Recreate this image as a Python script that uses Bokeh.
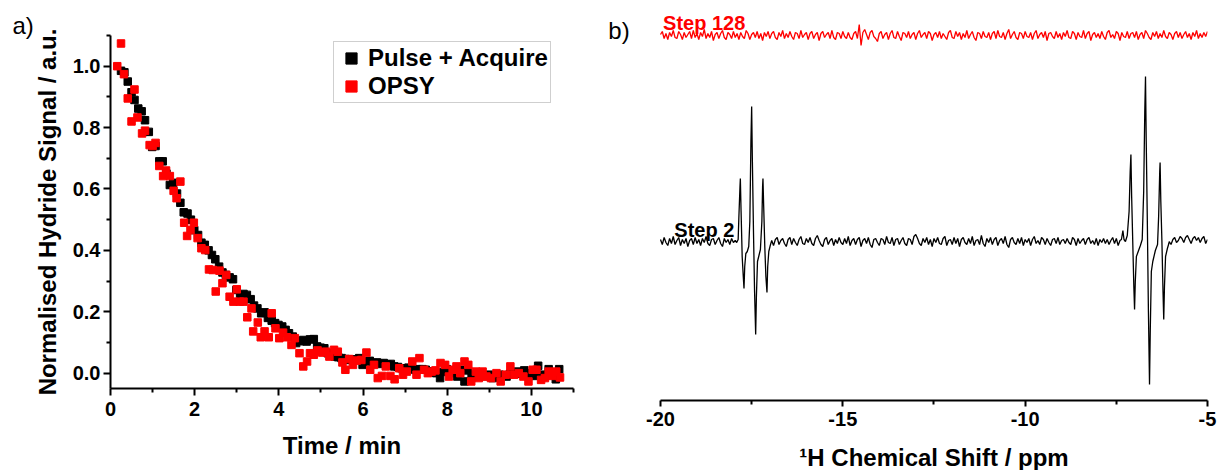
from bokeh.plotting import figure
from bokeh.models import (Range1d, FixedTicker, Legend, LegendItem, Label, Title)
from bokeh.layouts import row
from bokeh.embed import file_html
from bokeh.resources import INLINE

FONT = "Liberation Sans"

# ---------------- panel a) data ----------------
pa_time = [0.25, 0.33, 0.41, 0.50, 0.57, 0.66, 0.74, 0.82, 0.91, 0.99, 1.07, 1.16, 1.24, 1.33, 1.41, 1.49,
           1.58, 1.66, 1.74, 1.83, 1.91, 1.99, 2.08, 2.16, 2.24, 2.33, 2.41, 2.49, 2.58, 2.66, 2.74, 2.83,
           2.91, 2.99, 3.08, 3.16, 3.24, 3.33, 3.41, 3.49, 3.58, 3.66, 3.74, 3.83, 3.91, 3.99, 4.08, 4.16,
           4.24, 4.33, 4.41, 4.49, 4.58, 4.66, 4.74, 4.83, 4.91, 4.99, 5.08, 5.16, 5.24, 5.33, 5.41, 5.49,
           5.58, 5.66, 5.74, 5.83, 5.91, 5.99, 6.08, 6.16, 6.24, 6.33, 6.41, 6.49, 6.58, 6.66, 6.74, 6.83,
           6.91, 6.99, 7.08, 7.16, 7.24, 7.33, 7.41, 7.49, 7.58, 7.66, 7.74, 7.83, 7.91, 7.99, 8.08, 8.16,
           8.24, 8.33, 8.41, 8.49, 8.58, 8.66, 8.74, 8.83, 8.91, 8.99, 9.08, 9.16, 9.24, 9.33, 9.41, 9.49,
           9.58, 9.66, 9.74, 9.83, 9.91, 9.99, 10.08, 10.16, 10.24, 10.33, 10.41, 10.49, 10.58, 10.66]
pa_signal = [0.985, 0.98, 0.95, 0.915, 0.89, 0.862, 0.853, 0.824, 0.786, 0.737, 0.74, 0.69, 0.69, 0.65, 0.613, 0.62,
             0.585, 0.555, 0.524, 0.52, 0.5, 0.466, 0.45, 0.425, 0.418, 0.40, 0.385, 0.371, 0.347, 0.328, 0.32, 0.312,
             0.306, 0.271, 0.252, 0.258, 0.255, 0.241, 0.22, 0.211, 0.195, 0.198, 0.18, 0.171, 0.163, 0.157, 0.152, 0.141,
             0.13, 0.119, 0.098, 0.104, 0.108, 0.103, 0.11, 0.111, 0.087, 0.083, 0.081, 0.065, 0.06, 0.054, 0.052, 0.049,
             0.046, 0.043, 0.045, 0.043, 0.049, 0.027, 0.038, 0.04, 0.033, 0.035, 0.03, 0.033, 0.028, 0.03, 0.022, 0.02,
             0.016, 0.012, 0.018, 0.014, 0.011, 0.013, 0.013, 0.011, 0.002, 0.006, 0.0, -0.016, 0.004, 0.013, 0.009, 0.0,
             -0.011, 0.011, -0.027, 0.009, -0.005, -0.011, -0.008, -0.005, -0.01, -0.005, -0.016, -0.01, -0.005, -0.008, -0.011, -0.003,
             0.0, 0.005, -0.002, 0.009, 0.0, -0.005, -0.009, 0.024, -0.005, -0.009, 0.013, 0.0, -0.02, 0.013]

opsy_time = [0.16, 0.25, 0.32, 0.41, 0.50, 0.57, 0.64, 0.75, 0.82, 0.93, 1.00, 1.07, 1.16, 1.25, 1.32, 1.41,
             1.50, 1.57, 1.66, 1.75, 1.82, 1.90, 1.98, 2.07, 2.16, 2.25, 2.34, 2.43, 2.50, 2.59, 2.66, 2.75,
             2.83, 2.92, 3.00, 3.07, 3.16, 3.25, 3.35, 3.39, 3.50, 3.57, 3.66, 3.76, 3.83, 3.92, 4.01, 4.10,
             4.19, 4.30, 4.38, 4.49, 4.58, 4.67, 4.74, 4.83, 4.92, 5.03, 5.12, 5.20, 5.31, 5.40, 5.51, 5.58,
             5.67, 5.76, 5.85, 5.96, 6.08, 6.17, 6.26, 6.35, 6.45, 6.54, 6.65, 6.75, 6.86, 6.95, 7.04, 7.17,
             7.27, 7.34, 7.45, 7.54, 7.63, 7.72, 7.84, 7.95, 8.04, 8.13, 8.22, 8.31, 8.41, 8.50, 8.57, 8.68,
             8.75, 8.84, 8.93, 9.04, 9.17, 9.27, 9.39, 9.50, 9.59, 9.70, 9.81, 9.93, 10.03, 10.12, 10.23, 10.32,
             10.41, 10.50, 10.59, 10.68]
opsy_signal = [1.0, 1.074, 0.974, 0.895, 0.82, 0.924, 0.833, 0.781, 0.79, 0.743, 0.74, 0.75, 0.675, 0.642, 0.66, 0.642,
               0.594, 0.57, 0.624, 0.49, 0.447, 0.466, 0.49, 0.44, 0.407, 0.401, 0.338, 0.336, 0.266, 0.334, 0.293, 0.32,
               0.249, 0.233, 0.273, 0.233, 0.233, 0.182, 0.211, 0.136, 0.165, 0.117, 0.136, 0.117, 0.195, 0.146, 0.114, 0.132,
               0.117, 0.092, 0.114, 0.065, 0.022, 0.038, 0.065, 0.06, 0.074, 0.067, 0.07, 0.054, 0.076, 0.07, 0.035, 0.011,
               0.046, 0.027, 0.041, 0.043, 0.067, 0.011, 0.027, -0.016, -0.009, 0.022, -0.009, -0.02, 0.016, -0.005, 0.005, 0.038,
               -0.005, 0.049, 0.011, 0.0, 0.005, 0.009, 0.033, 0.027, -0.011, 0.011, 0.022, 0.0, 0.038, 0.027, -0.027, 0.005,
               -0.016, 0.005, -0.011, -0.016, 0.0, -0.027, -0.005, 0.022, -0.005, 0.0, -0.011, -0.027, 0.011, 0.011, -0.022, -0.016,
               0.005, -0.009, 0.005, -0.014]

x_ticks_a = [0, 2, 4, 6, 8, 10]
y_ticks_a = [0.0, 0.2, 0.4, 0.6, 0.8, 1.0]

# ---------------- panel b) data ----------------
ppm_start, ppm_step, n_points = -20.0, 0.05, 301
ppm_grid = [round(ppm_start + ppm_step * i, 2) for i in range(n_points)]

step2_baseline = (
    [2, -3, 4, -1, -4, 3, -2, 5, -3, 1, 4, -4, 2, -2, 3, -5, 1, 3, -3, 4,
     -2, 2, -4, 3, -1, 5, -2, -4, 2, 3, -3, 1, 4, -2, -5, 3, -1, 2, -3, 3, -1]
    + [0] * 21
    + [-4, 2, 4, -3, 1, 3, -2, -5, 2, 4, -3, 3, -1, -4, 2, 5, -2, -3, 3, -1]
    + [4, -2, -4, 3, 6, 1, -3, -5, 2, 4, -3, 1, 3, -4, 2, -2, 4, -1, -3, 3]
    + [-2, 5, -4, 1, 3, -3, 2, 4, -5, 1, 3, -2, 4, -3, -6, 2, 3, -1, -4, 3]
    + [2, -3, 5, -1, -2, 4, -4, 2, 3, -3, 1, 4, -2, -4, 3, 2, -3, 5, 7, 3]
    + [-2, -4, 3, -1, 4, -3, 2, -5, 3, -1, 4, -2, -3, 3, 5, -4, 1, 2, -3, 4]
    + [-2, 3, -5, 2, 4, -1, -3, 3, -2, 5, -4, 1, 2, -3, 6, -2, -5, 3, -1, 4]
    + [-3, 2, 4, -4, 1, 3, -2, 5, -3, -6, 2, 4, -1, -3, 3, -2, 4, -4, 2, -1]
    + [3, -4, 2, 5, -2, 1, -3, 4, 2, -3, 3, -1, -4, 2, 3, -2, 4, -3, 1, 2]
    + [-2, 3, -1, -3, 4, 2, -4, 3, -2, 1, 3, -3, 2, 4, -2, 1, -3, 3, -4, 2]
    + [-1, 3, -2, 2, -3, 1, 4, -2, 3, -4, 1]
    + [0] * 27
    + [-3, 2, 4, -1, 1, 5, 3, -1, 4, 6, 2, -2, 3, 5, 1, 4, -1, 3, 5, -2, 2]
)

left_ppm = [-17.95, -17.91, -17.87, -17.85, -17.82, -17.81, -17.79, -17.76, -17.73, -17.71, -17.69, -17.66,
            -17.62, -17.58, -17.55, -17.52, -17.50, -17.48, -17.45, -17.42, -17.39, -17.37, -17.34, -17.30,
            -17.26, -17.22, -17.20, -17.19, -17.17, -17.14, -17.11, -17.08, -17.06, -17.03, -16.99, -16.95]
left_int = [1, -1, 2, 25, 55, 63, 30, -15, -35, -47, -25, -12,
            -10, -5, 20, 100, 135, 80, 10, -50, -93, -55, -20, -14,
            -8, 20, 55, 63, 35, -5, -35, -51, -25, -10, -4, 1]

right_ppm = [-7.36, -7.32, -7.29, -7.25, -7.20, -7.15, -7.12, -7.10, -7.08, -7.05, -7.02, -7.00, -6.98, -6.95,
             -6.90, -6.84, -6.79, -6.75, -6.72, -6.70, -6.68, -6.65, -6.62, -6.59, -6.57, -6.54, -6.50, -6.43,
             -6.37, -6.34, -6.31, -6.30, -6.28, -6.25, -6.22, -6.20, -6.18, -6.15, -6.10, -6.06]
right_int = [2, 11, 2, 0, 6, 30, 70, 87, 45, 0, -45, -68, -40, -15,
             -10, -4, 2, 50, 130, 165, 100, 20, -70, -143, -90, -30, -20, -9,
             -3, 25, 70, 79, 40, 0, -50, -78, -45, -15, -7, -2]

step128_trace = (
    [1, 4, -3, 2, -4, 3, -1, 5, -2, -3, 4, 1, -4, 3, -2, 1, 4, -3, 5, -2]
    + [2, -4, 3, -1, 6, -3, 2, -2, 4, -5, 1, 3, -3, 2, 5, -2, -4, 3, 1, -3]
    + [4, -2, 2, -4, 3, -1, -3, 5, 2, -4, 1, 3, -2, 4, -3, 2, -5, 3, -1, 4]
    + [-3, 2, 4, -2, -4, 3, -1, 5, -3, 2, -2, 4, -1, -4, 3, 2, -3, 5, -2, 1]
    + [3, -4, 2, 4, -3, 1, 3, -5, 2, 4, -2, 1, 3, -3, 5, -2, -4, 3, 2, -3]
    + [4, -1, -3, 3, -2, -4, 2, 4, -3, 11, -10, 3, 6, 1, -4, 3, 5, -1, -3, -6]
    + [2, 4, -3, 1, 3, -4, 2, 5, -2, -3, 4, -1, -5, 3, 2, -2, 4, -3, 1, 3]
    + [-4, 2, 5, -2, 1, 3, -3, 4, 2, -5, 1, 3, -2, 4, -3, 2, -1, -4, 3, 5]
    + [-2, -3, 4, -1, 3, -4, 2, -2, 5, -3, 1, 4, -2, -5, 3, 2, -3, 4, -1, -2]
    + [3, -4, 2, 4, -3, 5, -1, -2, 3, -4, 2, 6, -3, 1, 4, -2, -4, 3, 2, -3]
    + [4, -1, -2, 3, -4, 2, 5, -3, 1, 3, -2, 4, -5, 2, 3, -1, -3, 4, -2, 2]
    + [-4, 3, -1, 5, -2, -3, 4, 2, -4, 3, -1, -2, 5, -3, 2, 4, -5, 1, 3, -2]
    + [2, -3, 4, -1, -4, 3, 5, -2, 1, -3, 4, 2, -5, 3, -1, -2, 4, -3, 2, 3]
    + [-2, 4, -4, 1, 3, -3, 5, 2, -2, -4, 3, -1, 4, -3, 2, -2, 5, -1, -3, 3]
    + [1, -4, 2, 4, -2, 3, -3, 1, 4, -2, 2, -4, 3, -1, 5, -3, 2, -2, 3, -1, 4]
)
step128_offset = 206

x_ticks_b = [-20, -15, -10, -5]
x_minor_b = [-17.5, -12.5, -7.5]


def build_trace(base, peaks):
    windows = [(min(pp), max(pp)) for pp, _ in peaks]
    pts = [(x, y) for x, y in zip(ppm_grid, base)
           if not any(lo <= x <= hi for lo, hi in windows)]
    for pp, vv in peaks:
        pts.extend(zip(pp, vv))
    pts.sort()
    return [p[0] for p in pts], [p[1] for p in pts]


def style_axis(ax, major_out, minor_out):
    ax.axis_line_width = 2
    ax.axis_line_color = "black"
    ax.major_tick_line_width = 2
    ax.minor_tick_line_width = 2
    ax.major_tick_out = major_out
    ax.major_tick_in = 0
    ax.minor_tick_out = minor_out
    ax.minor_tick_in = 0
    ax.major_label_text_font = FONT
    ax.major_label_text_font_style = "bold"
    ax.major_label_text_font_size = "20px"
    ax.major_label_text_color = "black"
    ax.axis_label_text_font = FONT
    ax.axis_label_text_font_style = "bold"
    ax.axis_label_text_font_size = "24px"
    ax.axis_label_text_color = "black"


# ---------------- panel a) ----------------
title_a = Title(text="a)", align="left", offset=-98, text_font=FONT, text_font_size="24px",
                text_font_style="normal", text_color="black", standoff=-6)
p1 = figure(frame_width=463, frame_height=353, min_border_left=110, min_border_right=27,
            min_border_top=35, min_border_bottom=82,
            x_range=Range1d(0, 11), y_range=Range1d(-0.05, 1.1),
            title=title_a, output_backend="svg", toolbar_location=None)
p1.frame_align = False
p1.outline_line_color = None
p1.grid.visible = False

r_pa = p1.scatter(pa_time, pa_signal, marker="square", size=7.5, color="black")
r_op = p1.scatter(opsy_time, opsy_signal, marker="square", size=7.5, color="#ff0000")

p1.xaxis.ticker = FixedTicker(ticks=x_ticks_a, minor_ticks=[1, 3, 5, 7, 9, 11])
p1.yaxis.ticker = FixedTicker(ticks=y_ticks_a, minor_ticks=[0.1, 0.3, 0.5, 0.7, 0.9, 1.1])
p1.xaxis.axis_label = "Time / min"
p1.yaxis.axis_label = "Normalised Hydride Signal / a.u."
style_axis(p1.xaxis[0], 7, 4)
style_axis(p1.yaxis[0], 7, 4)
p1.xaxis.major_label_standoff = 6
p1.yaxis.major_label_standoff = 3
p1.xaxis.axis_label_standoff = 13
p1.yaxis.axis_label_standoff = 9
p1.yaxis.major_label_overrides = {v: f"{v:.1f}" for v in y_ticks_a}

legend = Legend(items=[LegendItem(label="Pulse + Acquire", renderers=[r_pa]),
                       LegendItem(label="OPSY", renderers=[r_op])],
                location=(223, 285))
legend.label_text_font = FONT
legend.label_text_font_style = "bold"
legend.label_text_font_size = "24px"
legend.label_text_color = "black"
legend.glyph_height = 28
legend.glyph_width = 30
legend.label_height = 28
legend.label_standoff = 2
legend.spacing = 0
legend.padding = 2
legend.margin = 0
legend.border_line_color = "#a0a0a0"
legend.border_line_width = 1
p1.add_layout(legend)

# ---------------- panel b) ----------------
p2 = figure(frame_width=607, frame_height=400, min_border_left=0, min_border_right=10,
            min_border_top=0, min_border_bottom=70,
            x_range=Range1d(-21.645, -5), y_range=Range1d(-159, 241),
            y_axis_location=None,
            output_backend="svg", toolbar_location=None)
p2.frame_align = False
p2.outline_line_color = None
p2.grid.visible = False

bx, by = build_trace(step2_baseline, [(left_ppm, left_int), (right_ppm, right_int)])
p2.line(bx, by, line_color="black", line_width=1.3)
rx, ry = build_trace(step128_trace, [])
p2.line(rx, [v + step128_offset for v in ry], line_color="#ff0000", line_width=1.3)

p2.xaxis.ticker = FixedTicker(ticks=x_ticks_b, minor_ticks=x_minor_b)
p2.xaxis.bounds = (-20, -5)
# leading no-break spaces centre the title under the drawn axis (-20 … -5)
p2.xaxis.axis_label = "\u00a0" * 9 + "¹H Chemical Shift / ppm"
style_axis(p2.xaxis[0], 6, 4)
p2.xaxis.major_label_standoff = 5
p2.xaxis.axis_label_standoff = 15
p2.xaxis.major_label_overrides = {v: str(v) for v in x_ticks_b}

p2.add_layout(Label(x=-19.93, y=230, text="Step 128", text_font=FONT, text_font_style="bold",
                    text_font_size="20px", text_color="#ff0000", text_baseline="top"))
p2.add_layout(Label(x=-19.62, y=23, text="Step 2", text_font=FONT, text_font_style="bold",
                    text_font_size="20px", text_color="black", text_baseline="top"))
p2.add_layout(Label(x=-21.43, y=225, text="b)", text_font=FONT, text_font_size="24px",
                    text_baseline="top", text_align="left", text_color="black"))

layout = row(p1, p2)
open("out.html", "w").write(file_html(layout, INLINE))
